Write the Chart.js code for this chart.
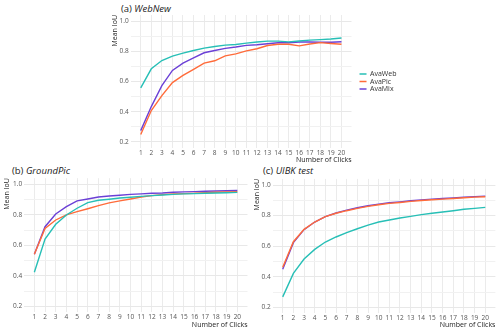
<!DOCTYPE html>
<html>
<head>
<meta charset="utf-8">
<script src="https://cdn.jsdelivr.net/npm/chart.js@4.4.1/dist/chart.umd.min.js"></script>
<style>
  body { margin: 0; background: #fff; width: 500px; height: 334px; position: relative; overflow: hidden; font-family: "Open Sans", sans-serif; }
  canvas { position: absolute; }
  .ttl { position: absolute; font-size: 9.5px; color: #222; white-space: nowrap; line-height: 1; }
  .ttl i { font-style: italic; }
</style>
</head>
<body>
<div class="ttl" style="left:121px;top:4px">(a) <i>WebNew</i></div>
<div class="ttl" style="left:12px;top:166px">(b) <i>GroundPic</i></div>
<div class="ttl" style="left:263px;top:166px">(c) <i>UIBK test</i></div>
<canvas id="chartA" width="400" height="166" style="left:100px;top:0"></canvas>
<canvas id="chartB" width="250" height="174" style="left:0;top:160px"></canvas>
<canvas id="chartC" width="250" height="174" style="left:250px;top:160px"></canvas>
<script>
const clicks = [1, 2, 3, 4, 5, 6, 7, 8, 9, 10, 11, 12, 13, 14, 15, 16, 17, 18, 19, 20];
const yBreaks = [0.2, 0.4, 0.6, 0.8, 1.0];
const yMinor = [0.3, 0.5, 0.7, 0.9];
const seriesNames = ['AvaWeb', 'AvaPic', 'AvaMix'];
const colors = ['#27bfb6', '#ff6b3a', '#6b40d6'];

// (a) WebNew
const webNewAvaWeb = [0.558, 0.684, 0.739, 0.768, 0.788, 0.805, 0.821, 0.832, 0.841, 0.845, 0.854, 0.861, 0.867, 0.867, 0.862, 0.868, 0.874, 0.877, 0.881, 0.888];
const webNewAvaPic = [0.249, 0.408, 0.507, 0.593, 0.640, 0.680, 0.722, 0.737, 0.770, 0.783, 0.803, 0.817, 0.838, 0.846, 0.846, 0.836, 0.848, 0.857, 0.851, 0.846];
const webNewAvaMix = [0.275, 0.434, 0.573, 0.673, 0.722, 0.757, 0.790, 0.805, 0.819, 0.828, 0.839, 0.843, 0.850, 0.856, 0.856, 0.861, 0.861, 0.860, 0.860, 0.863];

// (b) GroundPic
const groundPicAvaWeb = [0.423, 0.641, 0.738, 0.799, 0.843, 0.880, 0.895, 0.902, 0.910, 0.915, 0.921, 0.926, 0.930, 0.934, 0.937, 0.939, 0.941, 0.943, 0.945, 0.947];
const groundPicAvaPic = [0.541, 0.711, 0.766, 0.799, 0.821, 0.840, 0.860, 0.878, 0.891, 0.904, 0.917, 0.926, 0.932, 0.937, 0.939, 0.941, 0.945, 0.948, 0.950, 0.952];
const groundPicAvaMix = [0.541, 0.722, 0.805, 0.853, 0.891, 0.904, 0.917, 0.923, 0.928, 0.934, 0.937, 0.941, 0.943, 0.948, 0.950, 0.952, 0.954, 0.956, 0.958, 0.960];

// (c) UIBK test
const uibkAvaWeb = [0.268, 0.422, 0.516, 0.579, 0.627, 0.660, 0.688, 0.714, 0.738, 0.758, 0.771, 0.784, 0.795, 0.806, 0.815, 0.823, 0.832, 0.841, 0.847, 0.854];
const uibkAvaPic = [0.462, 0.629, 0.710, 0.758, 0.793, 0.815, 0.832, 0.847, 0.860, 0.871, 0.880, 0.886, 0.893, 0.899, 0.904, 0.908, 0.912, 0.917, 0.921, 0.923];
const uibkAvaMix = [0.449, 0.623, 0.708, 0.758, 0.793, 0.817, 0.836, 0.851, 0.864, 0.875, 0.884, 0.890, 0.897, 0.903, 0.908, 0.912, 0.916, 0.920, 0.924, 0.927];

Chart.defaults.font.family = '"Open Sans", sans-serif';

function makePanel(id, seriesList, box) {
  const datasets = seriesList.map((values, i) => ({
    label: seriesNames[i],
    data: values.map((v, k) => ({ x: clicks[k], y: v })),
    borderColor: colors[i],
    backgroundColor: colors[i],
    borderWidth: 1.4,
    pointRadius: 0,
    tension: 0,
    fill: false
  }));

  const scales = {
    x: {
      type: 'linear',
      min: 0.05,
      max: 20.95,
      afterBuildTicks: scale => { scale.ticks = clicks.map(v => ({ value: v })); },
      afterFit: scale => { scale.height = box.xHeight; },
      grid: { color: '#ebebeb', lineWidth: 1, drawTicks: false },
      border: { display: false },
      ticks: { autoSkip: false, maxRotation: 0, padding: box.xTickPad, color: '#555', font: { size: 6.5 } },
      title: { display: true, text: 'Number of Clicks', align: 'end', color: '#222', font: { size: 7 }, padding: { top: 0, bottom: box.xTitlePad } }
    },
    y: {
      type: 'linear',
      min: 0.16,
      max: 1.04,
      afterBuildTicks: scale => {
        scale.ticks = yBreaks.concat(yMinor).sort((a, b) => a - b).map(v => ({ value: v }));
      },
      afterFit: scale => { scale.width = box.yWidth; },
      grid: {
        drawTicks: false,
        color: ctx => yMinor.includes(ctx.tick.value) ? '#f1f1f1' : '#e8e8e8',
        lineWidth: 1
      },
      border: { display: false },
      ticks: {
        padding: 2,
        color: '#555',
        font: { size: 6.5 },
        callback: v => yBreaks.includes(v) ? v.toFixed(1) : ''
      },
      title: { display: true, text: 'Mean IoU', align: 'end', color: '#222', font: { size: 7 }, padding: { top: box.yTitlePad, bottom: 0 } }
    }
  };

  if (box.legend) {
    // empty spacer between plot panel and legend
    scales.gap = {
      type: 'linear',
      position: 'right',
      display: true,
      afterFit: scale => { scale.width = box.legendGap; },
      grid: { display: false },
      border: { display: false },
      ticks: { display: false }
    };
  }

  return new Chart(document.getElementById(id), {
    type: 'line',
    data: { datasets },
    options: {
      responsive: false,
      animation: false,
      devicePixelRatio: 1,
      layout: { padding: { left: 0, top: box.top, right: box.right, bottom: 0 } },
      plugins: {
        legend: {
          display: !!box.legend,
          position: 'right',
          fullSize: false,
          labels: {
            usePointStyle: true,
            pointStyle: 'line',
            pointStyleWidth: 7,
            boxHeight: 7,
            padding: 0.5,
            color: '#333',
            font: { size: 7 }
          }
        },
        tooltip: { enabled: false }
      },
      scales
    }
  });
}

makePanel('chartA', [webNewAvaWeb, webNewAvaPic, webNewAvaMix],
  { top: 15, right: 93.5, yWidth: 30.7, xHeight: 18, xTickPad: 1.5, xTitlePad: 1.8, yTitlePad: 10.3, legend: true, legendGap: 7.5 });
makePanel('chartB', [groundPicAvaWeb, groundPicAvaPic, groundPicAvaMix],
  { top: 18.2, right: 2.5, yWidth: 24.2, xHeight: 174 - 152.4, xTickPad: 0.5, xTitlePad: 4.8, yTitlePad: 3 });
makePanel('chartC', [uibkAvaWeb, uibkAvaPic, uibkAvaMix],
  { top: 18.9, right: 4.6, yWidth: 22.6, xHeight: 174 - 153.4, xTickPad: 0.5, xTitlePad: 4.8, yTitlePad: 3 });
</script>
</body>
</html>
